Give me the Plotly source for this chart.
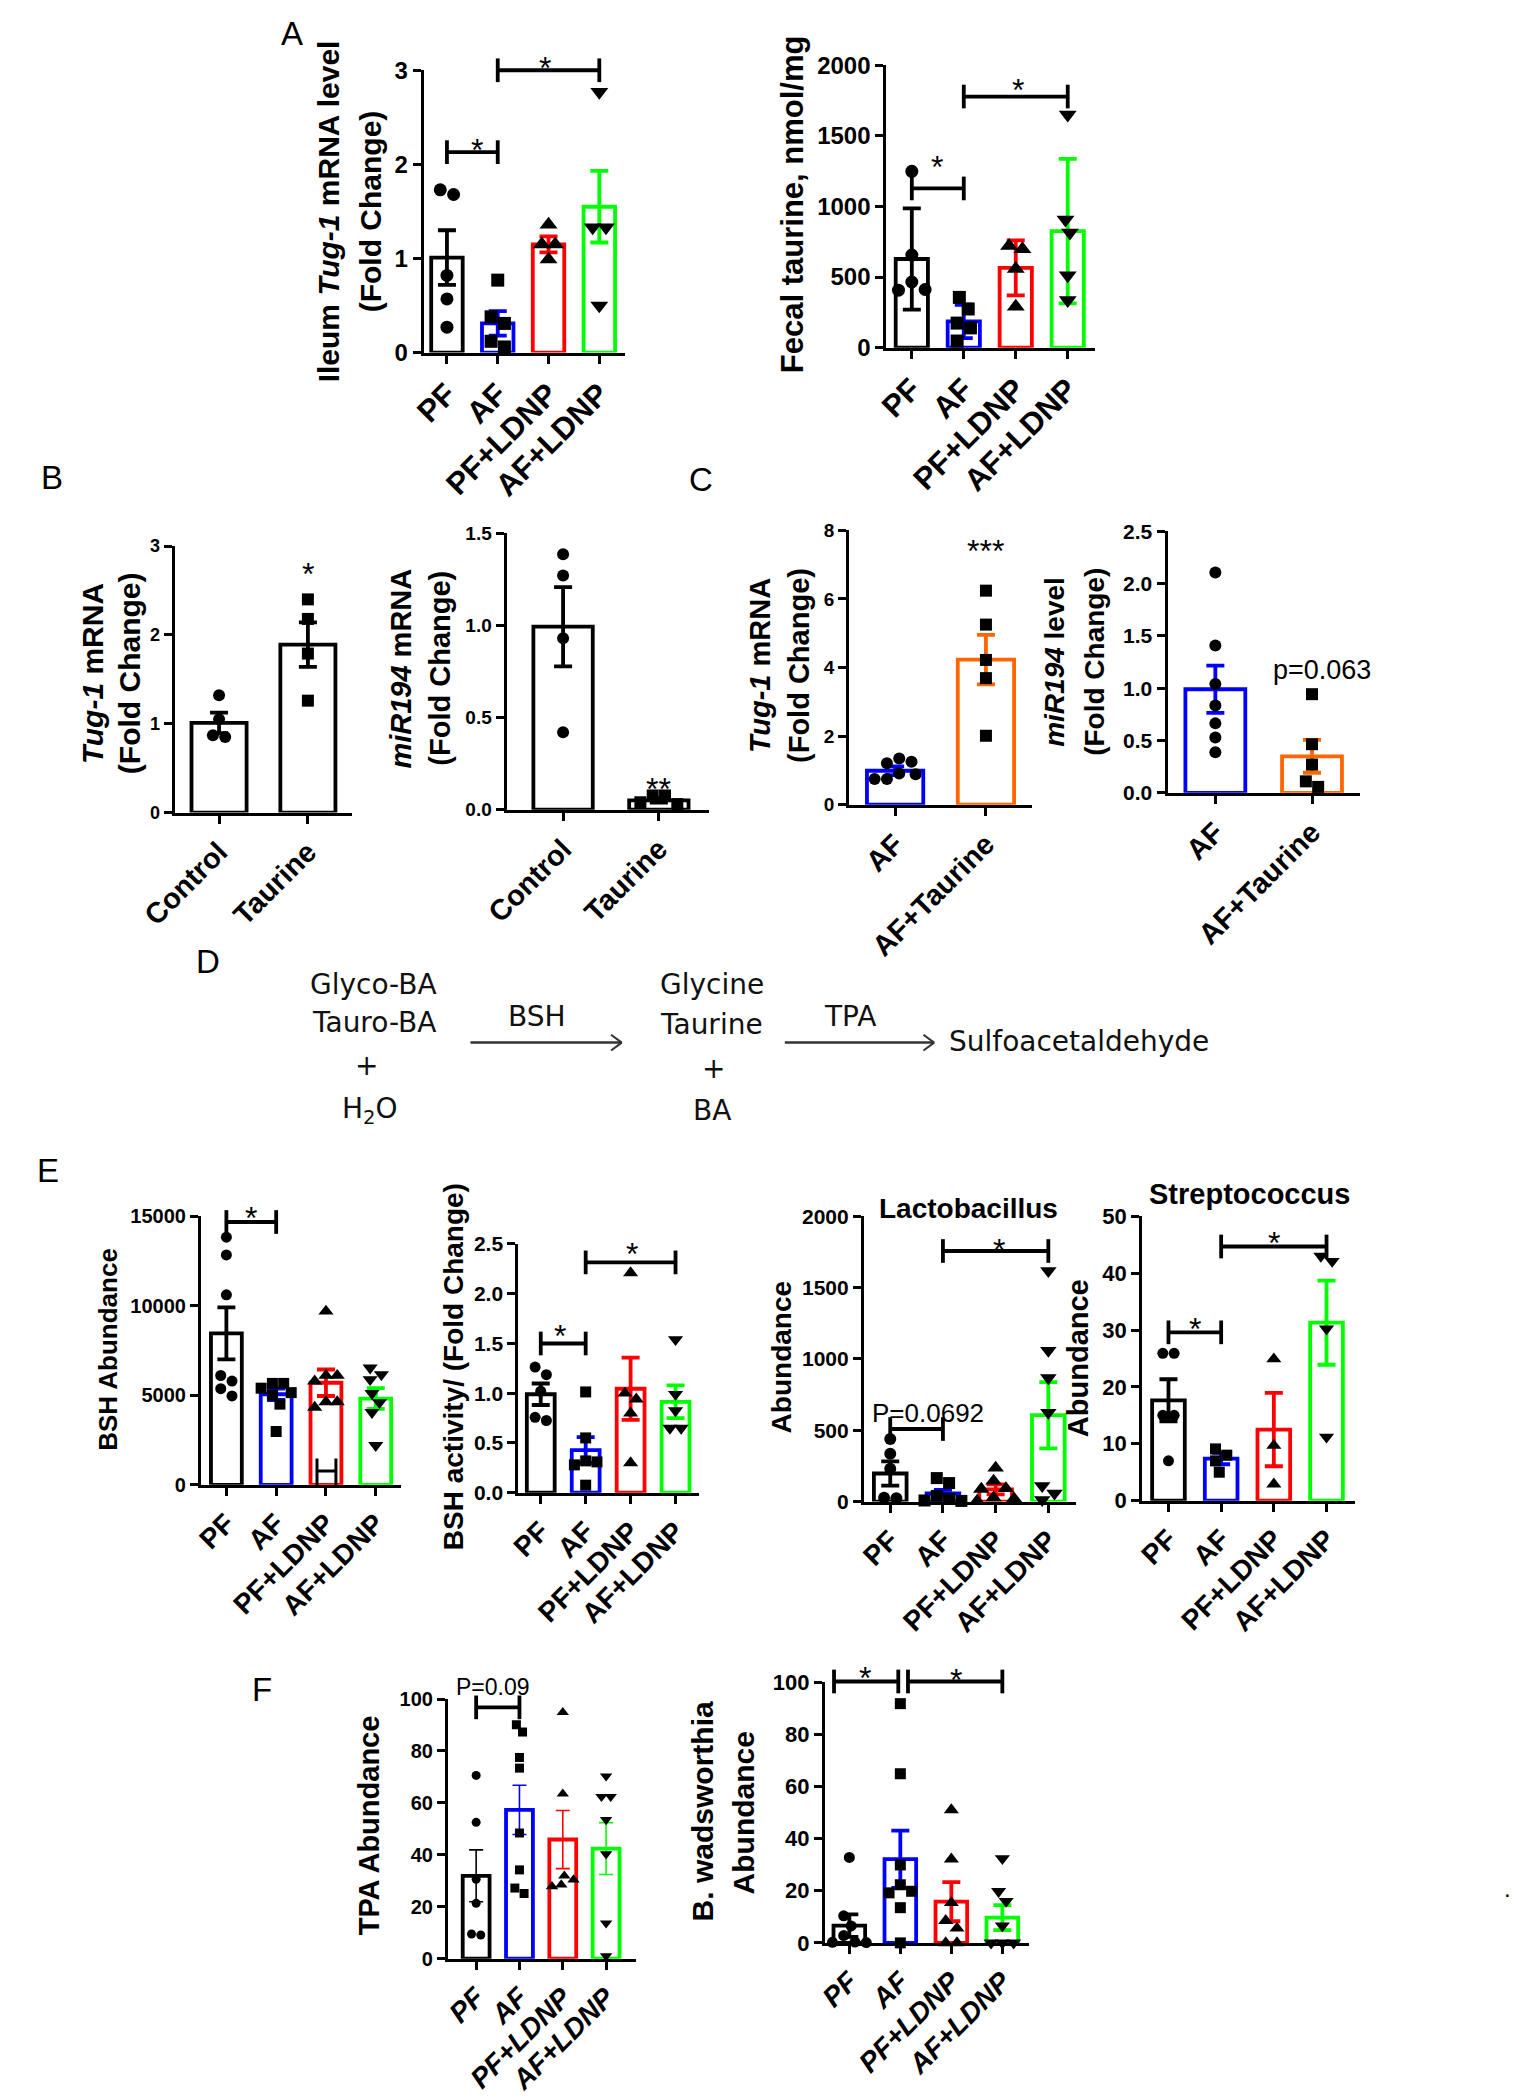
import plotly.graph_objects as go

W, H = 1518, 2100
FONT = "Liberation Sans, Arial, Helvetica, sans-serif"

# ------------------------------------------------------------------ data
groups4 = ["PF", "AF", "PF+LDNP", "AF+LDNP"]
groupsB = ["Control", "Taurine"]
groupsC = ["AF", "AF+Taurine"]

# A - ileum Tug-1 mRNA
ileum_mean = [1.01, 0.31, 1.15, 1.55]
ileum_sem = [0.29, 0.13, 0.085, 0.38]
ileum_pts = [[1.73, 1.68, 0.82, 0.57, 0.27],
             [0.77, 0.38, 0.31, 0.12, 0.06],
             [1.36, 1.15, 1.15, 0.99],
             [2.77, 1.33, 1.33, 0.50]]
# A - fecal taurine
fecal_mean = [628, 186, 565, 826]
fecal_sem = [358, 118, 195, 512]
fecal_pts = [[1249, 656, 465, 412, 407],
             [356, 274, 174, 140, 47],
             [721, 698, 558, 291],
             [1651, 907, 814, 512, 337]]
# B
b_tug_mean = [1.01, 1.89]
b_tug_sem = [0.115, 0.25]
b_tug_pts = [[1.32, 1.05, 0.87, 0.85], [2.40, 2.18, 1.79, 1.26]]
b_mir_mean = [0.993, 0.05]
b_mir_sem = [0.215, 0.012]
b_mir_pts = [[1.386, 1.27, 0.93, 0.42], [0.077, 0.077, 0.04, 0.03]]
# C
c_tug_mean = [0.99, 4.23]
c_tug_sem = [0.13, 0.72]
c_tug_pts = [[1.35, 1.25, 1.21, 0.91, 0.89, 0.75, 0.75],
             [6.24, 5.25, 4.22, 3.69, 2.01]]
c_mir_mean = [0.99, 0.349]
c_mir_sem = [0.226, 0.157]
c_mir_pts = [[2.107, 1.409, 1.04, 0.836, 0.664, 0.528, 0.387],
             [0.943, 0.465, 0.27, 0.11, 0.057]]
# E - BSH abundance
bsh_ab_mean = [8464, 5060, 5704, 4821]
bsh_ab_sem = [1450, 320, 740, 580]
bsh_ab_pts = [[13837, 12843, 10617, 6109, 5796, 5373, 4968],
              [5667, 5667, 5400, 5152, 5005, 4508, 2981],
              [9697, 6109, 6109, 5796, 4637, 4637, 4324],
              [6532, 6164, 5888, 5115, 4600, 4048, 2208]]
# E - BSH activity
bsh_act_mean = [0.99, 0.429, 1.045, 0.914]
bsh_act_sem = [0.108, 0.13, 0.313, 0.165]
bsh_act_pts = [[1.263, 1.187, 1.02, 0.758, 0.726],
               [1.013, 0.551, 0.32, 0.31, 0.28, 0.076],
               [2.21, 1.0, 0.94, 0.8, 0.3],
               [1.54, 0.99, 0.825, 0.65, 0.65]]
# E - Lactobacillus
lacto_mean = [197, 58, 86, 606]
lacto_sem = [85, 25, 35, 232]
lacto_pts = [[439, 335, 231, 28, 23],
             [165, 130, 40, 20, 8, 5],
             [236, 145, 92, 88, 28, 20, 5],
             [1618, 1059, 867, 624, 111, 58, 12]]
# E - Streptococcus
strep_mean = [17.65, 7.4, 12.5, 31.3]
strep_sem = [3.7, 1.0, 6.45, 7.4]
strep_pts = [[25.9, 25.9, 15.0, 15.0, 7.0],
             [9.1, 8.0, 7.0, 5.0],
             [24.9, 9.7, 2.9],
             [43.0, 42.1, 30.2, 11.2]]
# F - TPA abundance
tpa_mean = [31.9, 57.3, 45.9, 42.4]
tpa_sem = [10.0, 9.5, 11.2, 10.0]
tpa_pts = [[70.6, 52.5, 30.6, 21.3, 9.5, 9.1],
           [90.1, 87.3, 77.5, 73.4, 48.4, 34.2, 27.2, 25.1],
           [94.9, 63.5, 31.9, 30.4, 28.5, 27.8],
           [70.3, 62.4, 62.4, 53.5, 40.3, 13.7, 1.0]]
# F - B. wadsworthia
bw_mean = [6.6, 32.1, 15.8, 9.7]
bw_sem = [4.3, 11.0, 7.5, 4.8]
bw_pts = [[32.8, 10.4, 6.5, 2.8, 0.3, 0.2, 0.1],
          [91.8, 64.9, 29.9, 22.3, 19.8, 19.2, 13.5, 0.0],
          [51.0, 32.1, 15.4, 8.5, 5.6, 0.0, 0.0],
          [32.4, 19.8, 16.0, 6.6, 0.0, 0.0, 0.0]]

# ------------------------------------------------------------------ styles / geometry
COL4 = ["#000000", "#0000FF", "#FF0000", "#00FF00"]
SYM4 = ["circle", "square", "triangle-up", "triangle-down"]
COLB = ["#000000", "#000000"]
SYMB = ["circle", "square"]
COLC = ["#0000FF", "#FF6600"]

# pixel box of every plotting area and its axis ranges
GEOM = {
    "A1": dict(xl=397, xr=603, yt=57, yb=343, xr0=-0.46, xr1=3.5, ymax=3),
    "A2": dict(xl=871, xr=1085, yt=52, yb=338, xr0=-0.49, xr1=3.53, ymax=2000),
    "B1": dict(xl=142, xr=324, yt=539, yb=809, xr0=-0.5, xr1=1.5, ymax=3),
    "B2": dict(xl=482, xr=689, yt=526, yb=806, xr0=-0.59, xr1=1.52, ymax=1.5),
    "C1": dict(xl=833, xr=1020, yt=523, yb=801, xr0=-0.505, xr1=1.505, ymax=8),
    "C2": dict(xl=1159, xr=1356, yt=524, yb=789, xr0=-0.495, xr1=1.495, ymax=2.5),
    "E1": dict(xl=169, xr=374, yt=1218, yb=1490, xr0=-0.51, xr1=3.51, ymax=15000),
    "E2": dict(xl=494, xr=679, yt=1246, yb=1498, xr0=-0.5, xr1=3.52, ymax=2.5),
    "E3": dict(xl=848, xr=1065, yt=1218, yb=1507, xr0=-0.5, xr1=3.52, ymax=2000),
    "E4": dict(xl=1133, xr=1351, yt=1218, yb=1506, xr0=-0.5, xr1=3.54, ymax=50),
    "F1": dict(xl=422, xr=615, yt=1707, yb=1970, xr0=-0.65, xr1=3.7, ymax=100),
    "F2": dict(xl=808, xr=1017, yt=1690, yb=1954, xr0=-0.48, xr1=3.52, ymax=100),
}


def fmt1(v):
    return [f"{x:.1f}" for x in v]


def fmt0(v):
    return [str(int(x)) for x in v]


PANELS = [
    dict(key="A1", cats=groups4, mean=ileum_mean, sem=ileum_sem, pts=ileum_pts, colors=COL4, symbols=SYM4,
         yticks=[0, 1, 2, 3], fmt=fmt0, msize=13, xfs=31, yfs=24),
    dict(key="A2", cats=groups4, mean=fecal_mean, sem=fecal_sem, pts=fecal_pts, colors=COL4, symbols=SYM4,
         yticks=[0, 500, 1000, 1500, 2000], fmt=fmt0, msize=13, xfs=31, yfs=24),
    dict(key="B1", cats=groupsB, mean=b_tug_mean, sem=b_tug_sem, pts=b_tug_pts, colors=COLB, symbols=SYMB,
         yticks=[0, 1, 2, 3], fmt=fmt0, msize=12, xfs=29, yfs=18),
    dict(key="B2", cats=groupsB, mean=b_mir_mean, sem=b_mir_sem, pts=b_mir_pts, colors=COLB, symbols=SYMB,
         yticks=[0, 0.5, 1.0, 1.5], fmt=fmt1, msize=12, xfs=29, yfs=19),
    dict(key="C1", cats=groupsC, mean=c_tug_mean, sem=c_tug_sem, pts=c_tug_pts, colors=COLC, symbols=SYMB,
         yticks=[0, 2, 4, 6, 8], fmt=fmt0, msize=12, xfs=29, yfs=19),
    dict(key="C2", cats=groupsC, mean=c_mir_mean, sem=c_mir_sem, pts=c_mir_pts, colors=COLC, symbols=SYMB,
         yticks=[0, 0.5, 1.0, 1.5, 2.0, 2.5], fmt=fmt1, msize=12, xfs=29, yfs=21),
    dict(key="E1", cats=groups4, mean=bsh_ab_mean, sem=bsh_ab_sem, pts=bsh_ab_pts, colors=COL4, symbols=SYM4,
         yticks=[0, 5000, 10000, 15000], fmt=fmt0, msize=11, xfs=28, yfs=20),
    dict(key="E2", cats=groups4, mean=bsh_act_mean, sem=bsh_act_sem, pts=bsh_act_pts, colors=COL4, symbols=SYM4,
         yticks=[0, 0.5, 1.0, 1.5, 2.0, 2.5], fmt=fmt1, msize=11, xfs=28, yfs=21),
    dict(key="E3", cats=groups4, mean=lacto_mean, sem=lacto_sem, pts=lacto_pts, colors=COL4, symbols=SYM4,
         yticks=[0, 500, 1000, 1500, 2000], fmt=fmt0, msize=12, xfs=28, yfs=21),
    dict(key="E4", cats=groups4, mean=strep_mean, sem=strep_sem, pts=strep_pts, colors=COL4, symbols=SYM4,
         yticks=[0, 10, 20, 30, 40, 50], fmt=fmt0, msize=11, xfs=28, yfs=22),
    dict(key="F1", cats=groups4, mean=tpa_mean, sem=tpa_sem, pts=tpa_pts, colors=COL4, symbols=SYM4,
         yticks=[0, 20, 40, 60, 80, 100], fmt=fmt0, msize=9, xfs=28, yfs=20, italic=True, ethick=1.6, ecap=7),
    dict(key="F2", cats=groups4, mean=bw_mean, sem=bw_sem, pts=bw_pts, colors=COL4, symbols=SYM4,
         yticks=[0, 20, 40, 60, 80, 100], fmt=fmt0, msize=11, xfs=28, yfs=22, italic=True),
]

# significance brackets: panel, x start, x end, y, label, label x, label y
BRACKETS = [
    ("A1", 0, 1, 2.13, "*", 0.6, 2.23),
    ("A1", 1, 3, 3.0, "*", 1.94, 3.1),
    ("A2", 0, 1, 1128, "*", 0.49, 1330),
    ("A2", 1, 3, 1779, "*", 2.04, 1872),
    ("E1", 0, 1, 14683, "*", 0.5, 15272),
    ("E2", 0, 1, 1.5, "*", 0.43, 1.65),
    ("E2", 1, 3, 2.315, "*", 2.04, 2.47),
    ("E3", 0, 1, 509, "P=0.0692", 0.72, 624),
    ("E3", 1, 3, 1757, "*", 2.07, 1815),
    ("E4", 0, 1, 29.6, "*", 0.5, 31.4),
    ("E4", 1, 3, 44.7, "*", 2.0, 46.5),
    ("F1", 0, 1, 96.8, "P=0.09", 0.38, 104.5),
    ("F2", -0.3, 0.96, 100.3, "*", 0.3, 104.4),
    ("F2", 1.15, 3.0, 100.3, "*", 2.1, 103.5),
]
# single labels: panel, x, y, text
LABELS = [
    ("B1", 1, 2.76, "*"),
    ("B2", 1, 0.15, "**"),
    ("C1", 1, 7.6, "***"),
    ("C2", 1.1, 1.17, "p=0.063"),
]

# axis titles (pixel centre x, y, text, size)
YTITLES = [
    (300, 200, "Ileum <i>Tug-1</i> mRNA level", 30),
    (343, 200, "(Fold Change)", 30),
    (775, 193, "Fecal taurine, nmol/mg", 31),
    (58, 668, "<i>Tug-1</i> mRNA", 30),
    (96, 668, "(Fold Change)", 30),
    (374, 663, "<i>miR194</i> mRNA", 29),
    (414, 663, "(Fold Change)", 29),
    (741, 660, "<i>Tug-1</i> mRNA", 29),
    (781, 660, "(Fold Change)", 29),
    (1043, 656, "<i>miR194</i> level", 28),
    (1084, 656, "(Fold Change)", 28),
    (73, 1353, "BSH Abundance", 26),
    (428, 1370, "BSH activity/ (Fold Change)", 28),
    (764, 1361, "Abundance", 28),
    (1068, 1362, "Abundance", 29),
    (342, 1835, "TPA Abundance", 29),
    (683, 1821, "B. wadsworthia", 30),
    (725, 1822, "Abundance", 30),
]
PTITLES = [(955, 1210, "Lactobacillus", 28), (1243, 1195, "Streptococcus", 29)]
LETTERS = [(262, 20, "A"), (16, 470, "B"), (681, 472, "C"), (176, 960, "D"), (12, 1172, "E"), (232, 1697, "F")]


# ------------------------------------------------------------------ helpers
def px2x(p):
    return p / W


def px2y(p):
    return 1 - p / H


def dx(key, v):
    g = GEOM[key]
    return (g["xl"] + (v - g["xr0"]) / (g["xr1"] - g["xr0"]) * (g["xr"] - g["xl"])) / W


def dy(key, v):
    g = GEOM[key]
    return 1 - (g["yb"] - v / g["ymax"] * (g["yb"] - g["yt"])) / H


def swarm_offsets(vals, ppu, size, ppc):
    dmin = size * 1.05
    step = dmin / 3.0
    cands = [0.0]
    for j in range(1, 80):
        cands += [j * step, -j * step]
    order = sorted(range(len(vals)), key=lambda i: -vals[i])
    placed = {}
    for i in order:
        y = vals[i] * ppu
        c = 0.0
        for c in cands:
            if all((c - px) ** 2 + (y - py) ** 2 >= dmin ** 2 - 1e-6 for px, py in placed.values()):
                break
        placed[i] = (c, y)
    idx = sorted(placed, key=lambda i: placed[i][1])
    comps, cur = [], [idx[0]]
    for a, b in zip(idx, idx[1:]):
        if placed[b][1] - placed[a][1] < dmin:
            cur.append(b)
        else:
            comps.append(cur)
            cur = [b]
    comps.append(cur)
    out = [0.0] * len(vals)
    for comp in comps:
        xs = [placed[i][0] for i in comp]
        sh = (max(xs) + min(xs)) / 2
        for i in comp:
            out[i] = (placed[i][0] - sh) / ppc
    return out


fig = go.Figure()
layout = dict(width=W, height=H, margin=dict(l=0, r=0, t=0, b=0), paper_bgcolor="white",
              plot_bgcolor="white", showlegend=False, barmode="overlay",
              font=dict(family=FONT, color="black"))
annotations = []
shapes = []

for n, p in enumerate(PANELS, start=1):
    key = p["key"]
    g = GEOM[key]
    xr = "x" if n == 1 else f"x{n}"
    yr = "y" if n == 1 else f"y{n}"
    xname = "xaxis" if n == 1 else f"xaxis{n}"
    yname = "yaxis" if n == 1 else f"yaxis{n}"
    italic = p.get("italic", False)
    common = dict(showline=True, linewidth=3, linecolor="black", ticks="outside", ticklen=8,
                  tickwidth=3, tickcolor="black", showgrid=False, zeroline=False, fixedrange=True)
    layout[xname] = dict(domain=[px2x(g["xl"]), px2x(g["xr"])], anchor=yr, range=[g["xr0"], g["xr1"]],
                         tickmode="array", tickvals=list(range(len(p["cats"]))), ticktext=p["cats"],
                         tickangle=-45,
                         tickfont=dict(family=FONT, size=p["xfs"], color="black", weight="bold",
                                       style="italic" if italic else "normal"), **common)
    layout[yname] = dict(domain=[px2y(g["yb"]), px2y(g["yt"])], anchor=xr, range=[0, g["ymax"]],
                         tickmode="array", tickvals=p["yticks"], ticktext=p["fmt"](p["yticks"]),
                         tickfont=dict(family=FONT, size=p["yfs"], color="black", weight="bold"), **common)
    ppu = (g["yb"] - g["yt"]) / g["ymax"]
    ppc = (g["xr"] - g["xl"]) / (g["xr1"] - g["xr0"])
    for k in range(len(p["cats"])):
        col = p["colors"][k]
        fig.add_trace(go.Bar(x=[k], y=[p["mean"][k]], width=[0.62], xaxis=xr, yaxis=yr,
                             marker=dict(color="white", line=dict(color=col, width=3.8)),
                             error_y=dict(type="data", array=[p["sem"][k]], visible=True, color=col,
                                          thickness=p.get("ethick", 3.8), width=p.get("ecap", 9)),
                             hoverinfo="skip"))
    for k in range(len(p["cats"])):
        vals = p["pts"][k]
        sym = p["symbols"][k]
        size = p["msize"] * (1.2 if "triangle" in sym else 1.0)
        offs = swarm_offsets(vals, ppu, p["msize"], ppc)
        fig.add_trace(go.Scatter(x=[k + o for o in offs], y=vals, mode="markers", xaxis=xr, yaxis=yr,
                                 marker=dict(symbol=sym, size=size, color="black", line=dict(width=0)),
                                 cliponaxis=False, hoverinfo="skip"))

# brackets
TICK = 12
for key, x0, x1, yv, lab, lx, ly in BRACKETS:
    yy = dy(key, yv)
    shapes.append(dict(type="line", xref="paper", yref="paper", x0=dx(key, x0), x1=dx(key, x1),
                       y0=yy, y1=yy, line=dict(color="black", width=3.8)))
    for xe in (x0, x1):
        shapes.append(dict(type="line", xref="paper", yref="paper", x0=dx(key, xe), x1=dx(key, xe),
                           y0=yy - TICK / H, y1=yy + TICK / H, line=dict(color="black", width=3.8)))
    star = lab.startswith("*")
    annotations.append(dict(xref="paper", yref="paper", x=dx(key, lx), y=dy(key, ly), text=lab,
                            showarrow=False, xanchor="center", yanchor="middle",
                            yshift=-7 if star else 0,
                            font=dict(family=FONT, size=32 if star else (23 if key == "F1" else 26),
                                      color="black")))
for key, xv, yv, lab in LABELS:
    star = lab.startswith("*")
    annotations.append(dict(xref="paper", yref="paper", x=dx(key, xv), y=dy(key, yv), text=lab,
                            showarrow=False, xanchor="center", yanchor="middle",
                            yshift=-7 if star else 0,
                            font=dict(family=FONT, size=32 if star else 27, color="black")))

# stray "H" glyph at the bottom of the PF+LDNP bar (E, BSH abundance)
for (xa, ya, xb, yb) in [(1.82, 0, 1.82, 1472), (2.2, 0, 2.2, 1472), (1.82, 773, 2.2, 773)]:
    shapes.append(dict(type="line", xref="paper", yref="paper", x0=dx("E1", xa), x1=dx("E1", xb),
                       y0=dy("E1", ya), y1=dy("E1", yb), line=dict(color="black", width=3)))

for x, y, t, s in YTITLES:
    annotations.append(dict(xref="paper", yref="paper", x=px2x(x), y=px2y(y), text=f"<b>{t}</b>",
                            textangle=-90, showarrow=False, xanchor="center", yanchor="middle",
                            font=dict(family=FONT, size=s, color="black")))
for x, y, t, s in PTITLES:
    annotations.append(dict(xref="paper", yref="paper", x=px2x(x), y=px2y(y), text=f"<b>{t}</b>",
                            showarrow=False, xanchor="center", yanchor="middle",
                            font=dict(family=FONT, size=s, color="black")))
for x, y, t in LETTERS:
    annotations.append(dict(xref="paper", yref="paper", x=px2x(x), y=px2y(y), text=t,
                            showarrow=False, xanchor="center", yanchor="middle",
                            font=dict(family=FONT, size=33, color="black")))

# D: reaction scheme
DFONT = "DejaVu Sans, Noto Sans, sans-serif"
DTEXT = [(346, 983, "Glyco-BA"), (346, 1022, "Tauro-BA"), (339, 1065, "+"), (342, 1111, "H<sub>2</sub>O"),
         (513, 1016, "BSH"), (692, 983, "Glycine"), (692, 1024, "Taurine"), (694, 1068, "+"),
         (692, 1111, "BA"), (834, 1016, "TPA"), (1068, 1041, "Sulfoacetaldehyde")]
for x, y, t in DTEXT:
    annotations.append(dict(xref="paper", yref="paper", x=px2x(x), y=px2y(y), text=t, showarrow=False,
                            xanchor="center", yanchor="middle",
                            font=dict(family=DFONT, size=28, color="#111111")))
for (a, b, yv) in [(445, 600, 1042), (767, 920, 1042)]:
    shapes.append(dict(type="line", xref="paper", yref="paper", x0=px2x(a), x1=px2x(b),
                       y0=px2y(yv), y1=px2y(yv), line=dict(color="#333333", width=2.5)))
    for sgn in (-1, 1):
        shapes.append(dict(type="line", xref="paper", yref="paper", x0=px2x(b), x1=px2x(b - 11),
                           y0=px2y(yv), y1=px2y(yv + sgn * 8), line=dict(color="#333333", width=2)))

annotations.append(dict(xref="paper", yref="paper", x=px2x(1513), y=px2y(1915), text=".",
                        showarrow=False, font=dict(family=FONT, size=24, color="black")))

layout["annotations"] = annotations
layout["shapes"] = shapes
fig.update_layout(**layout)
fig.write_html("out.html", config={"displayModeBar": False},
               post_script="document.body.style.margin='0';document.body.style.overflow='hidden';")
